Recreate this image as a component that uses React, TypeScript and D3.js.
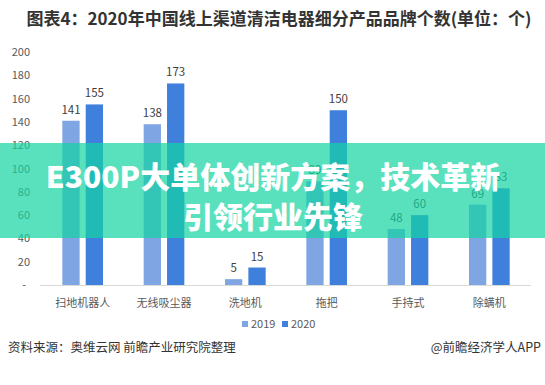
import { useEffect, useRef } from 'react';
import * as d3 from 'd3';

const categories = ['扫地机器人', '无线吸尘器', '洗地机', '拖把', '手持式', '除螨机'];
const seriesNames = ['2019', '2020'];
const values2019 = [141, 138, 5, 89, 48, 69];
const values2020 = [155, 173, 15, 150, 60, 83];
const yTicks = [0, 20, 40, 60, 80, 100, 120, 140, 160, 180, 200];

const colors: Record<string, string> = { '2019': '#7fa6e3', '2020': '#3e80dc' };
const cjk = '"Noto Sans CJK SC", "Microsoft YaHei", sans-serif';

export default function App() {
  const svgRef = useRef<SVGSVGElement>(null);

  useEffect(() => {
    if (!svgRef.current) return;
    const svg = d3.select(svgRef.current);
    svg.selectAll('*').remove();

    const width = 545;
    const height = 385;

    svg.append('rect').attr('width', width).attr('height', height).attr('fill', '#fff');

    // title
    svg
      .append('text')
      .attr('x', 279)
      .attr('y', 25)
      .attr('text-anchor', 'middle')
      .attr('font-family', cjk)
      .attr('font-weight', 'bold')
      .attr('font-size', 17)
      .attr('fill', '#333')
      .text('图表4：2020年中国线上渠道清洁电器细分产品品牌个数(单位：个)');

    const x0 = d3.scaleBand().domain(categories).range([42, 530]).paddingInner(0.5).paddingOuter(0.25);
    const x1 = d3.scaleBand().domain(seriesNames).range([0, x0.bandwidth()]).paddingInner(0.26);
    const y = d3.scaleLinear().domain([0, 200]).range([285, 52]);

    // y tick labels
    svg
      .append('g')
      .selectAll('text')
      .data(yTicks)
      .join('text')
      .attr('x', (d) => (d === 0 ? 26 : 30))
      .attr('y', (d) => y(d) + 4)
      .attr('text-anchor', 'end')
      .attr('font-family', cjk)
      .attr('font-size', 11)
      .attr('fill', '#595959')
      .text((d) => (d === 0 ? '-' : String(d)));

    const rows = categories.map((c, i) => ({
      cat: c,
      items: [
        { key: '2019', v: values2019[i] },
        { key: '2020', v: values2020[i] },
      ],
    }));

    const groups = svg
      .append('g')
      .selectAll('g')
      .data(rows)
      .join('g')
      .attr('transform', (d) => `translate(${x0(d.cat)},0)`);

    groups
      .selectAll('rect')
      .data((d) => d.items)
      .join('rect')
      .attr('x', (d) => x1(d.key)!)
      .attr('width', x1.bandwidth())
      .attr('y', (d) => y(d.v))
      .attr('height', (d) => y(0) - y(d.v))
      .attr('fill', (d) => colors[d.key]);

    groups
      .selectAll('text')
      .data((d) => d.items)
      .join('text')
      .attr('x', (d) => x1(d.key)! + x1.bandwidth() / 2)
      .attr('y', (d) => y(d.v) - 7)
      .attr('text-anchor', 'middle')
      .attr('font-family', cjk)
      .attr('font-size', 11.5)
      .attr('fill', '#404040')
      .text((d) => d.v);

    // x axis
    svg
      .append('line')
      .attr('x1', 40)
      .attr('x2', 531)
      .attr('y1', y(0) + 0.5)
      .attr('y2', y(0) + 0.5)
      .attr('stroke', '#d9d9d9');

    svg
      .append('g')
      .selectAll('text')
      .data(categories)
      .join('text')
      .attr('x', (d) => x0(d)! + x0.bandwidth() / 2)
      .attr('y', 307)
      .attr('text-anchor', 'middle')
      .attr('font-family', cjk)
      .attr('font-size', 11)
      .attr('fill', '#595959')
      .text((d) => d);

    // legend
    const legend = svg
      .append('g')
      .selectAll('g')
      .data(seriesNames)
      .join('g')
      .attr('transform', (_, i) => `translate(${242 + i * 40},321)`);
    legend.append('rect').attr('width', 6).attr('height', 6).attr('fill', (d) => colors[d]);
    legend
      .append('text')
      .attr('x', 9)
      .attr('y', 7)
      .attr('font-family', cjk)
      .attr('font-size', 11)
      .attr('fill', '#595959')
      .text((d) => d);

    // overlay banner
    svg
      .append('rect')
      .attr('x', 0)
      .attr('y', 143)
      .attr('width', width)
      .attr('height', 95)
      .attr('fill', 'rgb(19,212,162)')
      .attr('fill-opacity', 0.7);

    const bannerLines = ['E300P大单体创新方案，技术革新', '引领行业先锋'];
    svg
      .append('g')
      .selectAll('text')
      .data(bannerLines)
      .join('text')
      .attr('x', 273)
      .attr('y', (_, i) => 188 + i * 40)
      .attr('text-anchor', 'middle')
      .attr('font-family', cjk)
      .attr('font-weight', 900)
      .attr('font-size', 30)
      .attr('fill', '#fff')
      .text((d) => d);

    // footer
    svg
      .append('text')
      .attr('x', 8)
      .attr('y', 352)
      .attr('font-family', cjk)
      .attr('font-size', 12.5)
      .attr('fill', '#333')
      .text('资料来源：奥维云网 前瞻产业研究院整理');
    svg
      .append('text')
      .attr('x', 541)
      .attr('y', 352)
      .attr('text-anchor', 'end')
      .attr('font-family', cjk)
      .attr('font-size', 12.5)
      .attr('fill', '#333')
      .text('@前瞻经济学人APP');
  }, []);

  return (
    <svg
      ref={svgRef}
      width={545}
      height={385}
      viewBox="0 0 545 385"
      style={{ position: 'absolute', left: 0, top: 0 }}
    />
  );
}
